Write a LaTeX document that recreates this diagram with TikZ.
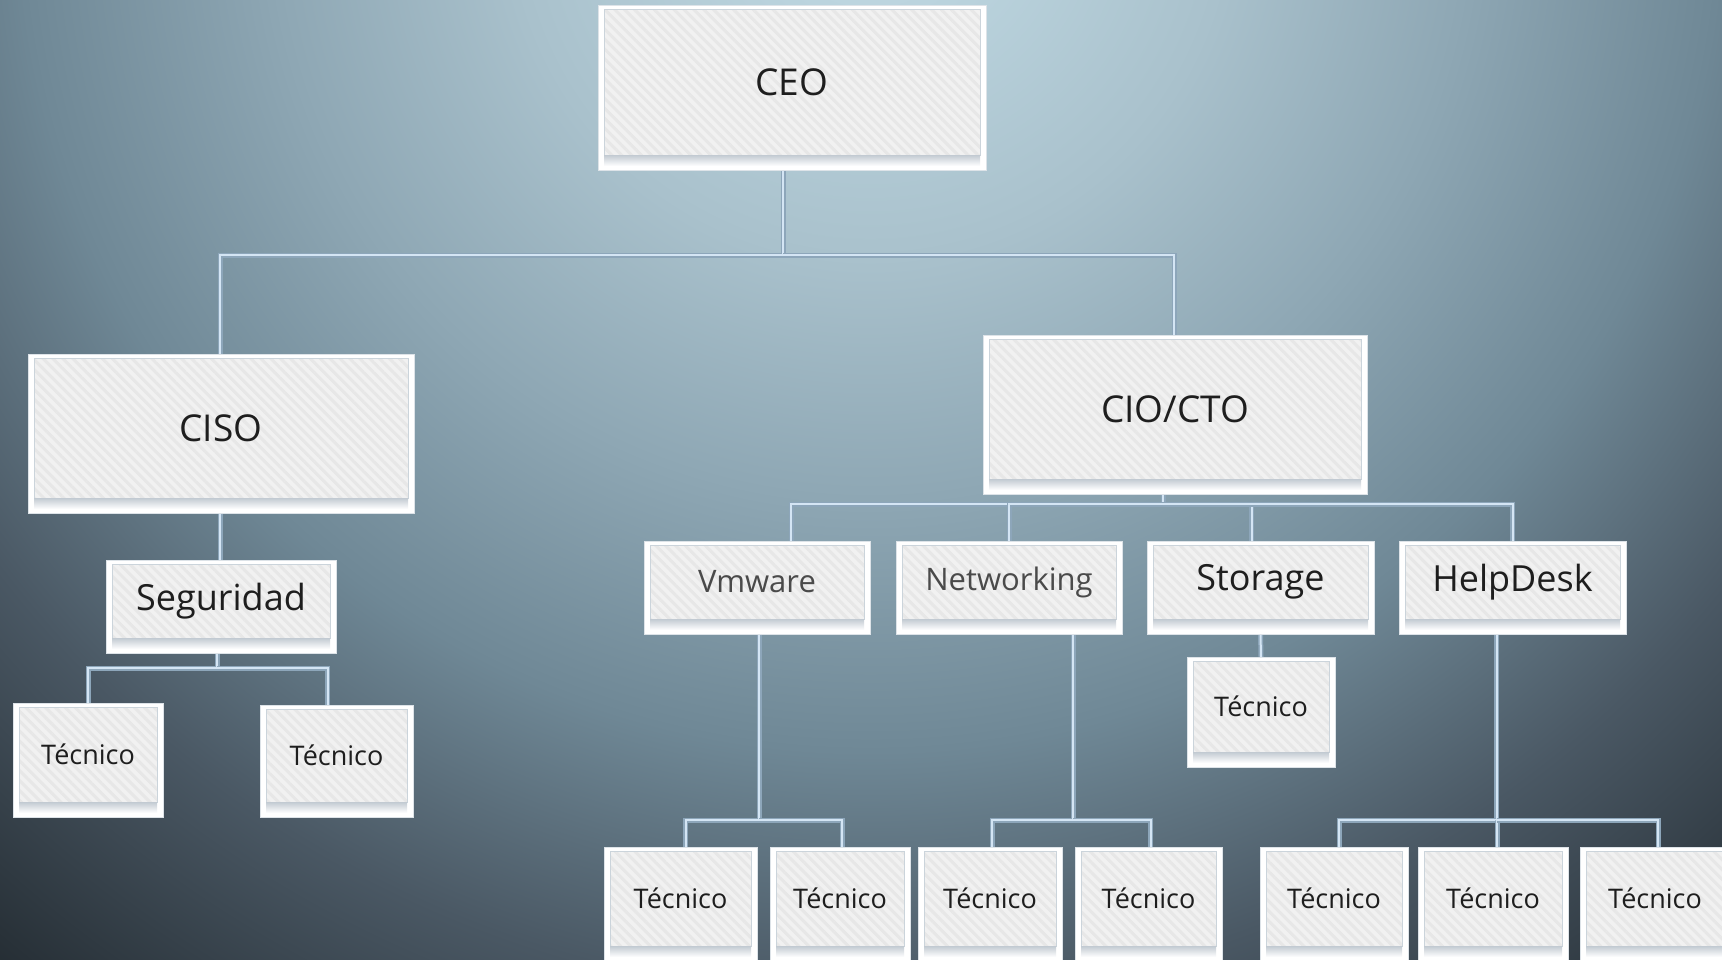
\documentclass[tikz,border=0pt]{standalone}
\usepackage{fontspec}
\setmainfont{Open Sans}
\usetikzlibrary{calc,patterns.meta}
\definecolor{c0}{HTML}{BCD5DF}
\definecolor{c1}{HTML}{A9C1CC}
\definecolor{c2}{HTML}{8EA7B4}
\definecolor{c3}{HTML}{6F8896}
\definecolor{c4}{HTML}{4A5864}
\definecolor{c5}{HTML}{36414A}
\definecolor{c6}{HTML}{222A30}
\definecolor{connout}{HTML}{8DA6BA}
\definecolor{connin}{HTML}{D4E5F4}
\definecolor{innerfill}{HTML}{F1F1F1}
\definecolor{stripe}{HTML}{E7E7E7}
\definecolor{innerline}{HTML}{CBD4DB}
\definecolor{shadtop}{HTML}{C2CAD2}
\definecolor{outerline}{HTML}{DDE3E8}
\definecolor{txtdark}{HTML}{1E1E1E}
\definecolor{txtgray}{HTML}{4A4A4A}
\pgfdeclareradialshading{bgshade}{\pgfpoint{0bp}{0bp}}{color(0bp)=(c0); color(1.8bp)=(c0); color(6.4bp)=(c1); color(10.7bp)=(c2); color(15.2bp)=(c3); color(19.6bp)=(c4); color(22.3bp)=(c5); color(25bp)=(c6); color(50bp)=(c6)}
\pgfdeclarelayer{bg}
\pgfdeclarelayer{lines}
\pgfsetlayers{bg,lines,main}
\tikzset{
  outerbox/.style={rectangle, fill=white, draw=outerline, line width=1pt, inner sep=0pt, outer sep=0pt},
  conno/.style={draw=connout, line width=5pt},
  conni/.style={draw=connin, line width=2pt},
  bigtxt/.style={font=\fontsize{37}{40}\selectfont, text=txtdark, inner sep=0pt},
  midtxt/.style={font=\fontsize{36}{40}\selectfont, text=txtdark, inner sep=0pt},
  graytxt/.style={font=\fontsize{31}{36}\selectfont, text=txtgray, inner sep=0pt},
  smalltxt/.style={font=\fontsize{27}{30}\selectfont, text=txtdark, inner sep=0pt}
}
\newcommand\obox[7]{%
  \node[outerbox, minimum width={(#4-#2)*1pt}, minimum height={(#5-#3)*1pt}] (#1) at ({(#2+#4)/2},{(#3+#5)/2}) {};
  \fill[innerfill] (#2+6,#3+4) rectangle (#4-6,#5-15);
  \fill[pattern={Lines[angle=-45,distance=7pt,line width=3pt]}, pattern color=stripe] (#2+6,#3+4) rectangle (#4-6,#5-15);
  \draw[innerline, line width=0.8pt] (#2+6,#3+4) rectangle (#4-6,#5-15);
  \shade[top color=shadtop, bottom color=white] (#2+6,#5-15) rectangle (#4-6,#5-4);
  \node[#6] (#1-t) at ({(#2+#4)/2},{(#3+#5-11)/2}) {#7};
}
% connector drawn twice: dark edge, light core
\newcommand\conn[1]{\draw[conno] #1; \draw[conni] #1;}
\begin{document}
\begin{tikzpicture}[x=1pt,y=-1pt]
\useasboundingbox (0,0) rectangle (1722,959);
\begin{pgfonlayer}{bg}
\fill[c6] (0,0) rectangle (1722,959);
\shade[shading=bgshade] (870,-100) circle [radius=1400];
\end{pgfonlayer}
% boxes
\obox{ceo}{598}{5}{986}{170}{bigtxt}{CEO}
\obox{ciso}{28}{354}{414}{513}{bigtxt}{CISO}
\obox{seg}{106}{560}{336}{653}{midtxt}{Seguridad}
\obox{st1}{13}{703}{163}{817}{smalltxt}{Técnico}
\obox{st2}{260}{705}{413}{817}{smalltxt}{Técnico}
\obox{cio}{983}{335}{1367}{494}{bigtxt}{CIO/CTO}
\obox{vmw}{644}{541}{870}{634}{graytxt}{Vmware}
\obox{net}{896}{541}{1122}{634}{graytxt}{Networking}
\obox{sto}{1147}{541}{1374}{634}{midtxt}{Storage}
\obox{hd}{1399}{541}{1626}{634}{midtxt}{HelpDesk}
\obox{stt}{1187}{657}{1335}{767}{smalltxt}{Técnico}
\obox{b1}{604}{847}{757}{961}{smalltxt}{Técnico}
\obox{b2}{770}{847}{910}{961}{smalltxt}{Técnico}
\obox{b3}{918}{847}{1062}{961}{smalltxt}{Técnico}
\obox{b4}{1075}{847}{1222}{961}{smalltxt}{Técnico}
\obox{b5}{1260}{847}{1408}{961}{smalltxt}{Técnico}
\obox{b6}{1418}{847}{1568}{961}{smalltxt}{Técnico}
\obox{b7}{1580}{847}{1730}{961}{smalltxt}{Técnico}
% connectors
\begin{pgfonlayer}{lines}
\path ([xshift=-9pt]ceo.south) ++(0,85) coordinate (cj);
\path ([xshift=-4pt]seg.south) ++(0,15) coordinate (sj);
\path ([xshift=-12pt]cio.south) ++(0,10) coordinate (rj);
\path ([xshift=2pt]vmw.south) ++(0,186) coordinate (vj);
\path ([xshift=64pt]net.south) ++(0,186) coordinate (nj);
\path ([xshift=-16pt]hd.south) ++(0,186) coordinate (hj);
\conn{([xshift=-9pt]ceo.south) -- (cj) -| ([xshift=-1pt]ciso.north)}
\conn{(cj) -| ([xshift=-1pt]cio.north)}
\conn{([xshift=-1pt]ciso.south) -- ([xshift=-1pt]seg.north)}
\conn{([xshift=-4pt]seg.south) -- (sj) -| (st1.north)}
\conn{(sj) -| ([xshift=-9pt]st2.north)}
\conn{([xshift=-12pt]cio.south) -- (rj) -| ([xshift=34pt]vmw.north)}
\conn{(rj) -| (net.north)}
\conn{(rj) -| ([xshift=-9pt]sto.north)}
\conn{(rj) -| (hd.north)}
\conn{([xshift=2pt]vmw.south) -- (vj) -| ([xshift=5pt]b1.north)}
\conn{(vj) -| ([xshift=2pt]b2.north)}
\conn{([xshift=64pt]net.south) -- (nj) -| ([xshift=2pt]b3.north)}
\conn{(nj) -| ([xshift=2pt]b4.north)}
\conn{(sto.south) -- (stt.north)}
\conn{([xshift=-16pt]hd.south) -- (hj) -| ([xshift=5pt]b5.north)}
\conn{(hj) -| ([xshift=4pt]b6.north)}
\conn{(hj) -| ([xshift=3pt]b7.north)}
\end{pgfonlayer}
\end{tikzpicture}
\end{document}
